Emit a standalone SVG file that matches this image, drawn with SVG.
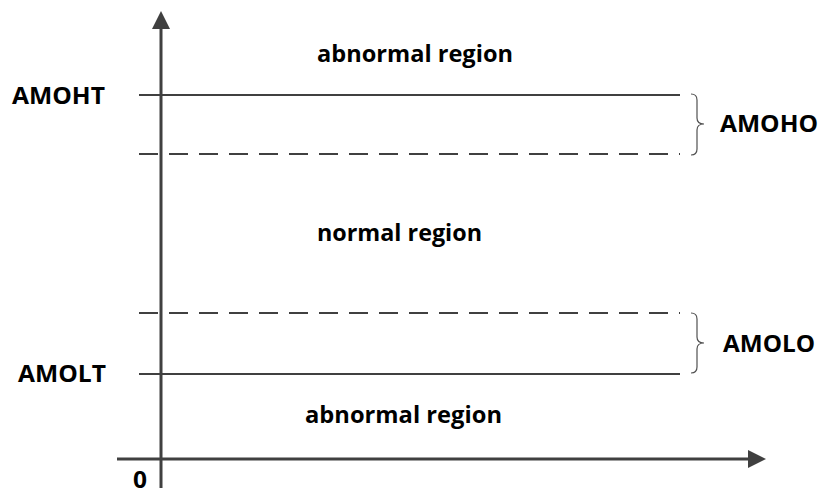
<svg xmlns="http://www.w3.org/2000/svg" width="818" height="500" viewBox="0 0 818 500">
  <style>
    .lbl { font-family: "Open Sans", "Liberation Sans", sans-serif; font-weight: bold; font-size: 23px; fill: #000; }
    .axis { stroke: #404040; stroke-width: 3; fill: none; }
    .level { stroke: #404040; stroke-width: 2; fill: none; }
    .dash { stroke-dasharray: 19 11; }
    .brace { stroke: #505050; stroke-width: 1.2; fill: none; }
  </style>
  <rect width="818" height="500" fill="#ffffff"/>

  <!-- axes -->
  <g id="axes">
    <line class="axis" x1="161" y1="488" x2="161" y2="26"/>
    <polygon points="161,11 152,29 170,29" fill="#404040"/>
    <line class="axis" x1="117" y1="459" x2="750" y2="459"/>
    <polygon points="766,459 748,450 748,468" fill="#404040"/>
    <text class="lbl" x="133" y="488" textLength="14" lengthAdjust="spacingAndGlyphs">0</text>
  </g>

  <!-- threshold levels -->
  <g id="connectors">
    <line class="level" x1="139" y1="95" x2="680" y2="95"/>
    <line class="level dash" x1="139" y1="154" x2="680" y2="154"/>
    <line class="level dash" x1="139" y1="313" x2="680" y2="313"/>
    <line class="level" x1="139" y1="374" x2="680" y2="374"/>
  </g>

  <g id="amoht">
    <text class="lbl" x="12" y="104" textLength="93" lengthAdjust="spacingAndGlyphs">AMOHT</text>
  </g>
  <g id="amolt">
    <text class="lbl" x="18" y="382" textLength="88" lengthAdjust="spacingAndGlyphs">AMOLT</text>
  </g>

  <!-- hysteresis bands -->
  <g id="amoho">
    <path class="brace" d="M691,94 Q697,94 697,100 L697,118 Q697,124 704,124 Q697,124 697,130 L697,149 Q697,155 691,155"/>
    <text class="lbl" x="720" y="132" textLength="98" lengthAdjust="spacingAndGlyphs">AMOHO</text>
  </g>
  <g id="amolo">
    <path class="brace" d="M691,313 Q697,313 697,319 L697,337 Q697,343 704,343 Q697,343 697,349 L697,367 Q697,373 691,373"/>
    <text class="lbl" x="723" y="352" textLength="92" lengthAdjust="spacingAndGlyphs">AMOLO</text>
  </g>

  <!-- regions -->
  <g id="upper-region">
    <text class="lbl" x="317" y="62" textLength="196" lengthAdjust="spacingAndGlyphs">abnormal region</text>
  </g>
  <g id="normal-region">
    <text class="lbl" x="317" y="241" textLength="165" lengthAdjust="spacingAndGlyphs">normal region</text>
  </g>
  <g id="lower-region">
    <text class="lbl" x="305" y="423" textLength="197" lengthAdjust="spacingAndGlyphs">abnormal region</text>
  </g>
</svg>
